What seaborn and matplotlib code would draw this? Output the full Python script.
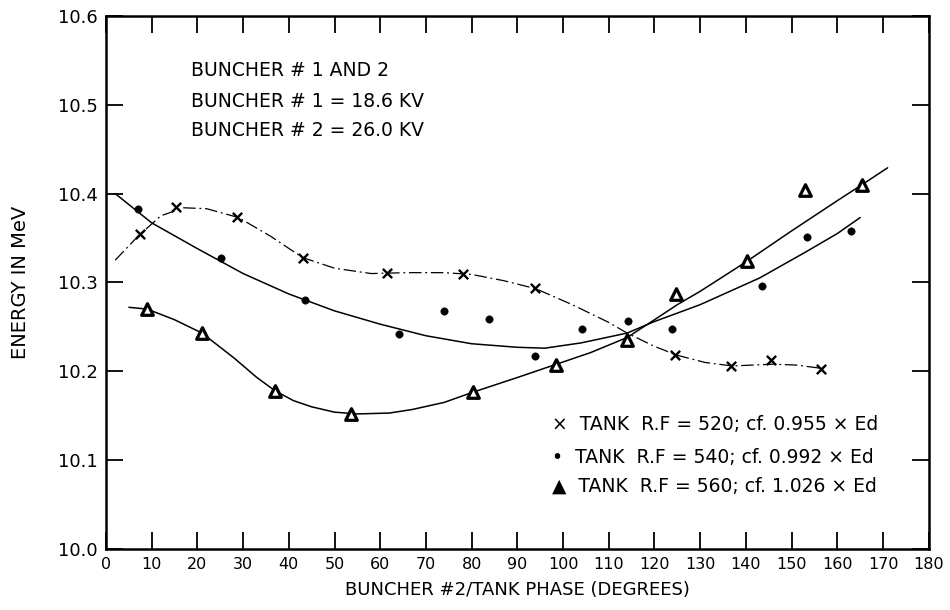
import matplotlib
matplotlib.use("Agg")
import matplotlib.pyplot as plt
import seaborn as sns
import pandas as pd
import numpy as np

# ---- measured points ----
x520 = [7.4, 15.4, 28.6, 43.1, 61.5, 78.0, 93.8, 124.5, 136.7, 145.5, 156.4]
y520 = [10.354, 10.385, 10.374, 10.327, 10.311, 10.310, 10.294, 10.218, 10.206, 10.213, 10.203]

x540 = [7.1, 25.1, 43.5, 64.1, 74.0, 83.8, 93.8, 104.1, 114.1, 123.9, 143.6, 153.3, 163.1]
y540 = [10.383, 10.327, 10.280, 10.242, 10.268, 10.259, 10.217, 10.248, 10.257, 10.248, 10.296, 10.351, 10.358]

x560 = [8.9, 21.0, 37.0, 53.5, 80.3, 98.5, 113.9, 124.7, 140.3, 152.9, 165.5]
y560 = [10.270, 10.243, 10.178, 10.152, 10.177, 10.207, 10.235, 10.287, 10.324, 10.404, 10.410]

# ---- hand-drawn fitted curves ----
cx520 = [2, 7, 12, 17, 22, 29, 36, 43, 50, 58, 66, 74, 80, 87, 94, 102, 110, 114, 120, 125, 131, 137, 146, 151, 157]
cy520 = [10.325, 10.352, 10.375, 10.384, 10.383, 10.373, 10.352, 10.328, 10.316, 10.310, 10.311, 10.311, 10.309,
         10.302, 10.293, 10.275, 10.255, 10.243, 10.228, 10.218, 10.210, 10.206, 10.208, 10.207, 10.203]

cx540 = [2, 10, 20, 30, 40, 50, 60, 70, 80, 90, 96, 104, 114, 120, 130, 143, 153, 160, 165]
cy540 = [10.400, 10.367, 10.338, 10.310, 10.287, 10.268, 10.253, 10.240, 10.231, 10.227, 10.226, 10.232, 10.243,
         10.256, 10.275, 10.305, 10.334, 10.355, 10.373]

cx560 = [5, 9, 15, 21, 28, 33, 37, 41, 45, 50, 55, 62, 67, 74, 80, 90, 98, 106, 114, 120, 125, 130, 140, 150, 160, 166, 171]
cy560 = [10.272, 10.270, 10.258, 10.243, 10.215, 10.193, 10.178, 10.167, 10.160, 10.154, 10.152, 10.153, 10.157,
         10.165, 10.176, 10.193, 10.207, 10.221, 10.238, 10.258, 10.275, 10.290, 10.323, 10.358, 10.392, 10.412, 10.429]

xticks = list(range(0, 181, 10))
yticks = [10.0, 10.1, 10.2, 10.3, 10.4, 10.5, 10.6]
ytick_labels = ["10.0", "10.1", "10.2", "10.3", "10.4", "10.5", "10.6"]

info_lines = ["BUNCHER # 1 AND 2", "BUNCHER # 1 = 18.6 KV", "BUNCHER # 2 = 26.0 KV"]
legend_lines = ["×  TANK  R.F = 520; cf. 0.955 × Ed",
                "•  TANK  R.F = 540; cf. 0.992 × Ed",
                "▲  TANK  R.F = 560; cf. 1.026 × Ed"]

sns.set_theme(style="ticks")
plt.rcParams['font.family'] = ['DejaVu Sans']
plt.rcParams['text.color'] = 'black'
plt.rcParams['axes.labelcolor'] = 'black'
plt.rcParams['xtick.color'] = 'black'
plt.rcParams['ytick.color'] = 'black'

fig = plt.figure(figsize=(9.5, 6.1), dpi=100)
ax = fig.add_axes([0.1116, 0.1, 0.866, 0.874])

c520 = pd.DataFrame({"x": cx520, "y": cy520})
c540 = pd.DataFrame({"x": cx540, "y": cy540})
c560 = pd.DataFrame({"x": cx560, "y": cy560})
sns.lineplot(data=c520, x="x", y="y", ax=ax, color="black", lw=0.9, sort=False,
             linestyle=(0, (10, 3, 1.5, 3)))
sns.lineplot(data=c540, x="x", y="y", ax=ax, color="black", lw=1.1, sort=False)
sns.lineplot(data=c560, x="x", y="y", ax=ax, color="black", lw=1.1, sort=False)

sns.scatterplot(x=x520, y=y520, ax=ax, marker="x", s=45, color="black", linewidth=1.7, zorder=5)
sns.scatterplot(x=x540, y=y540, ax=ax, marker="o", s=28, color="black", edgecolor="black", zorder=5)
sns.scatterplot(x=x560, y=y560, ax=ax, marker="^", s=70, facecolor="white", edgecolor="black",
                linewidth=2.3, zorder=5)

ax.set_xlim(0, 180)
ax.set_ylim(10.0, 10.6)
ax.set_xticks(xticks)
ax.set_xticklabels([str(t) for t in xticks], fontsize=11.5)
ax.set_yticks(yticks)
ax.set_yticklabels(ytick_labels, fontsize=13)
ax.tick_params(axis="both", direction="in", length=12, width=1.3, top=True, right=True, pad=6,
               colors="black")
for sp in ax.spines.values():
    sp.set_linewidth(1.8)
    sp.set_color("black")

ax.set_xlabel("BUNCHER #2/TANK PHASE (DEGREES)", fontsize=13, labelpad=6)
ax.set_ylabel("ENERGY IN MeV", fontsize=14, labelpad=20)

info_y = [10.538, 10.504, 10.471]
for t, yy in zip(info_lines, info_y):
    ax.text(18.5, yy, t, fontsize=13.5, ha="left", va="center")

leg_y = [10.140, 10.103, 10.071]
for t, yy in zip(legend_lines, leg_y):
    ax.text(97.5, yy, t, fontsize=13.5, ha="left", va="center")

fig.savefig("out.png", dpi=100)
